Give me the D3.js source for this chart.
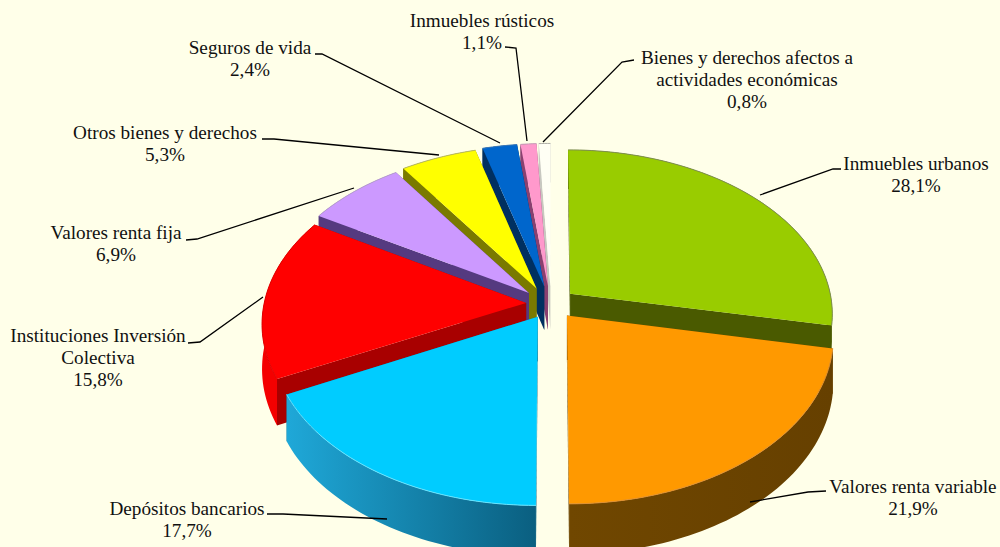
<!DOCTYPE html>
<html><head><meta charset="utf-8">
<script src="https://cdn.jsdelivr.net/npm/d3@7"></script>
<style>html,body{margin:0;padding:0;background:#FFFFE9;overflow:hidden}svg{display:block}text{font-family:"Liberation Serif",serif;font-size:19.2px;fill:#111}</style>
</head><body><svg id="c" width="1000" height="547"></svg>
<script>
const categories=["Inmuebles urbanos","Valores renta variable","Depósitos bancarios","Instituciones Inversión Colectiva","Valores renta fija","Otros bienes y derechos","Seguros de vida","Inmuebles rústicos","Bienes y derechos afectos a actividades económicas"];
const values=[28.1,21.9,17.7,15.8,6.9,5.3,2.4,1.1,0.8];
const valueLabels=["28,1%","21,9%","17,7%","15,8%","6,9%","5,3%","2,4%","1,1%","0,8%"];
const labelLines=[["Inmuebles urbanos"],["Valores renta variable"],["Depósitos bancarios"],["Instituciones Inversión","Colectiva"],["Valores renta fija"],["Otros bienes y derechos"],["Seguros de vida"],["Inmuebles rústicos"],["Bienes y derechos afectos a","actividades económicas"]];
const topColors=["#99CC00","#FF9900","#00CCFF","#FF0000","#CC99FF","#FFFF00","#0066CC","#FF99CC","#FFFFF4"];
const faceColors=["#4A5A00","#6A4300","#0B6A8C","#A80000","#553A80","#7A7A00","#003060","#8A4070","#C8C8C0"];
const wallLight=["#4A5A00","#704700","#1FA8D8","#F40000","#553A80","#7A7A00","#003060","#8A4070","#C8C8C0"];
const wallDark=["#4A5A00","#664000","#0A5F80","#E00000","#553A80","#7A7A00","#003060","#8A4070","#C8C8C0"];
const edgeColors=["#7f8f50","#e09030","#66E4FF","#e00000","#b8a0d0","#b8b860","#3a78b8","#c8a0b8","#b0b0a8"];
const nudgeX=[0,0,0,0,-4,-4,-2,-1,0];
const nudgeY=[0,0,0,0,0,-1,-2,-2,-2];

const svg=d3.select("#c");
const cx=551,cy=303.5,R=262,Rt=163,k=0.118,H=44,explode=0.095;
const project=(u,v,z)=>{const s=1/(1+k*v);return [cx+R*u*s,cy-Rt*v*s+H*z*s];};
const pie=d3.pie().sort(null).value(d=>d)(values);
const line=d3.line();
const defs=svg.append("defs");
const slices=pie.map((p,i)=>{const m=(p.startAngle+p.endAngle)/2;return {i,a0:p.startAngle,a1:p.endAngle,ox:explode*Math.sin(m),oy:explode*Math.cos(m)};});
const pt=(s,a,r,z)=>{const q=project(s.ox+r*Math.sin(a),s.oy+r*Math.cos(a),z);return [q[0]+nudgeX[s.i],q[1]+nudgeY[s.i]];};
const arcPts=(s,z,rev)=>{const n=Math.max(4,Math.ceil((s.a1-s.a0)*40));const t=d3.range(n+1).map(j=>s.a0+(s.a1-s.a0)*j/n);if(rev)t.reverse();return t.map(a=>pt(s,a,1,z));};
const order=[8,7,6,5,4,0,3,1,2];
order.forEach(i=>{
  const s=slices[i],g=svg.append("g");
  const id="w"+i;
  const grad=defs.append("linearGradient").attr("id",id).attr("gradientUnits","userSpaceOnUse");
  const e0=pt(s,s.a0,1,0),e1=pt(s,s.a1,1,0);
  const left=Math.min(e0[0],e1[0]),right=Math.max(e0[0],e1[0]);
  grad.attr("x1",left).attr("x2",right).attr("y1",0).attr("y2",0);
  grad.append("stop").attr("offset",0).attr("stop-color",wallLight[i]);
  grad.append("stop").attr("offset",1).attr("stop-color",wallDark[i]);
  [s.a0,s.a1].forEach(a=>{
    g.append("path").attr("d",line([pt(s,0,0,0),pt(s,a,1,0),pt(s,a,1,1),pt(s,0,0,1)])+"Z").attr("fill",faceColors[i]);
  });
  g.append("path").attr("d",line(arcPts(s,0,false).concat(arcPts(s,1,true)))+"Z").attr("fill",`url(#${id})`);
  g.append("path").attr("d",line([pt(s,0,0,0)].concat(arcPts(s,0,false)))+"Z").attr("fill",topColors[i]);
  g.append("path").attr("d",line(arcPts(s,0,false))).attr("fill","none").attr("stroke",edgeColors[i]).attr("stroke-width",1);
});
const leaders=[[[841,169],[833,169],[760,195]],[[826,491],[808,492],[750,502]],[[267,514],[283,514],[387,519]],[[188,343],[200,342],[263,297]],[[186,240],[197,239],[354,188]],[[262,139],[274,139],[439,155]],[[315,54],[322,54],[500,143]],[[505,47],[516,48],[527,141]],[[634,60],[622,62],[543,142]]];
const labelAnchor=[[916,170],[913,493],[187,515],[98,342],[116,239],[165,139],[250,54],[482,27],[747,64]];
leaders.forEach(l=>svg.append("path").attr("d",line(l)).attr("fill","none").attr("stroke","#000").attr("stroke-width",1.3));
categories.forEach((c,i)=>{
  const t=svg.append("text").attr("text-anchor","middle");
  labelLines[i].concat([valueLabels[i]]).forEach((ln,j)=>{
    t.append("tspan").attr("x",labelAnchor[i][0]).attr("y",labelAnchor[i][1]+j*22).text(ln);
  });
});
</script></body></html>
